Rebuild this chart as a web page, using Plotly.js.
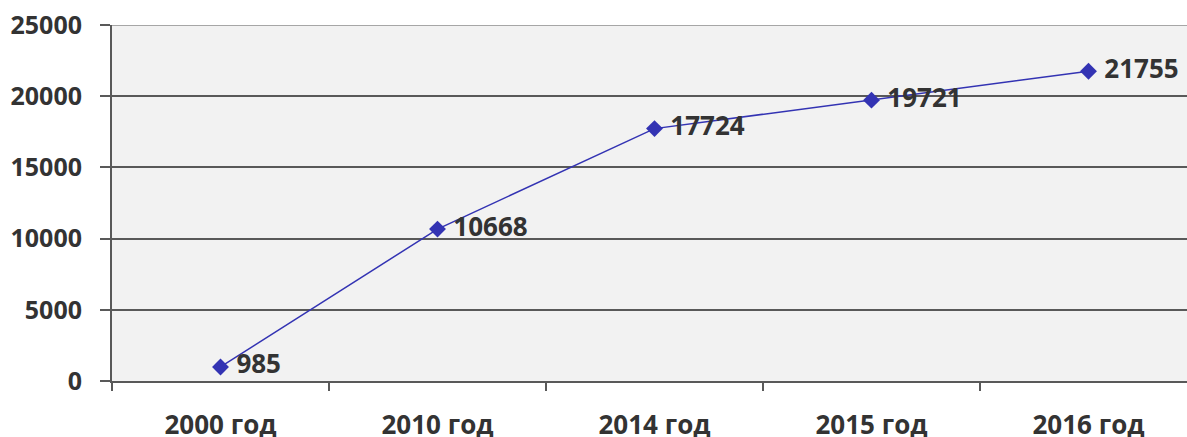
<!DOCTYPE html>
<html>
<head>
<meta charset="utf-8">
<script src="https://cdn.plot.ly/plotly-3.0.1.min.js"></script>
<style>html,body{margin:0;padding:0;background:#fff;overflow:hidden}#chart{width:1187px;height:437px}</style>
</head>
<body>
<div id="chart"></div>
<script>
var categories = ["2000 год", "2010 год", "2014 год", "2015 год", "2016 год"];
var values = [985, 10668, 17724, 19721, 21755];
var yTicks = [0, 5000, 10000, 15000, 20000, 25000];

var textColor = "#333333";
var fontFamily = "'Open Sans', 'DejaVu Sans', sans-serif";

var trace = {
  type: "scatter",
  mode: "lines+markers+text",
  x: categories,
  y: values,
  text: values.map(function (v) { return "\u00a0" + v; }),
  textposition: "middle right",
  textfont: {family: fontFamily, size: 26, color: textColor, weight: 700},
  line: {color: "rgb(51,51,179)", width: 1.5},
  marker: {symbol: "diamond", size: 13, color: "rgb(51,51,179)"},
  cliponaxis: false,
  hoverinfo: "none"
};

var layout = {
  width: 1187,
  height: 437,
  margin: {l: 112, r: 0, t: 25, b: 56, pad: 0},
  paper_bgcolor: "#ffffff",
  plot_bgcolor: "#f2f2f2",
  showlegend: false,
  font: {family: fontFamily, color: textColor, size: 22, weight: 700},
  xaxis: {
    type: "category",
    range: [-0.5, 4.454],
    showgrid: false,
    showline: true,
    linecolor: "#595959",
    linewidth: 2,
    ticks: "outside",
    tickson: "boundaries",
    ticklen: 8,
    tickwidth: 2,
    tickcolor: "#595959",
    tickfont: {family: fontFamily, size: 26, color: textColor, weight: 700},
    ticklabelstandoff: 20,
    zeroline: false,
    fixedrange: true
  },
  yaxis: {
    range: [0, 25000],
    tickmode: "array",
    tickvals: yTicks,
    ticktext: yTicks.map(String),
    showgrid: true,
    gridcolor: "#595959",
    gridwidth: 2,
    showline: true,
    linecolor: "#595959",
    linewidth: 2,
    ticks: "outside",
    ticklen: 10,
    tickwidth: 2,
    tickcolor: "#595959",
    tickfont: {family: fontFamily, size: 25, color: textColor, weight: 700},
    ticklabelstandoff: 13,
    zeroline: false,
    fixedrange: true
  },
  shapes: [{
    type: "line", xref: "paper", yref: "y",
    x0: 0, x1: 1, y0: yTicks[yTicks.length - 1], y1: yTicks[yTicks.length - 1],
    line: {color: "#a6a6a6", width: 2}
  }]
};

Plotly.newPlot("chart", [trace], layout, {displayModeBar: false, staticPlot: true});
</script>
</body>
</html>
